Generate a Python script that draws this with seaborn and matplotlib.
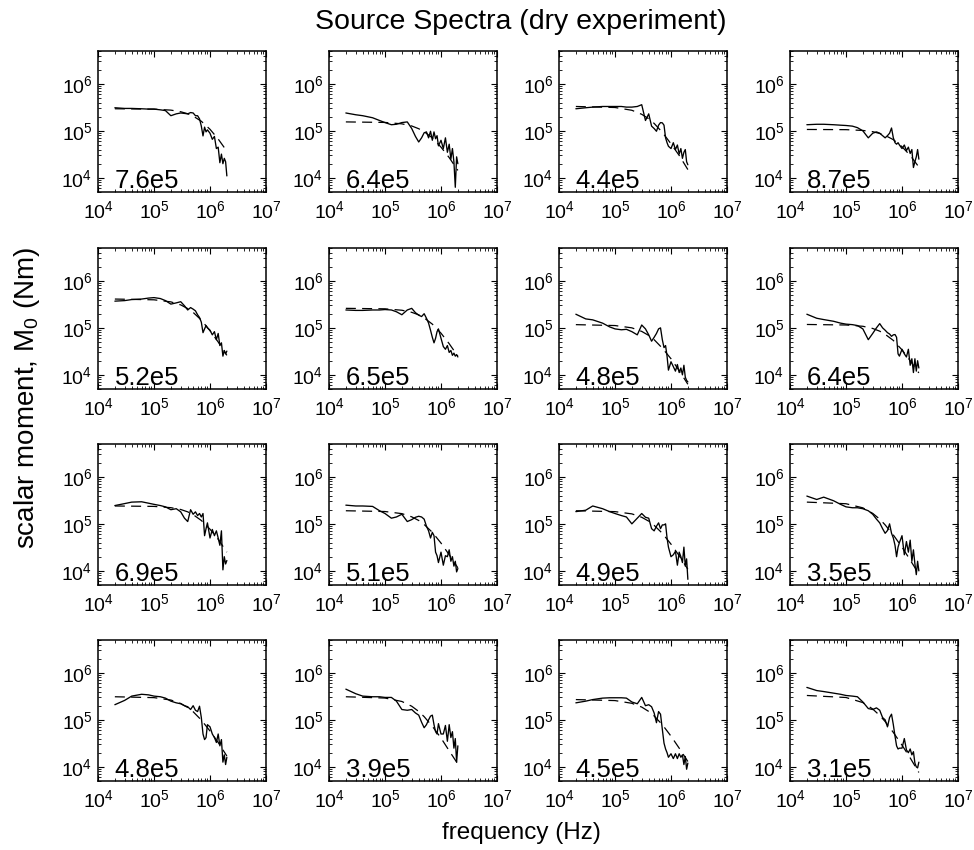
import numpy as np
import pandas as pd
import matplotlib
matplotlib.use("Agg")
import matplotlib.pyplot as plt
import seaborn as sns
from matplotlib.ticker import LogLocator, NullFormatter, LogFormatterSciNotation

# ---------------- data ----------------
freq = [2e4, 3e4, 4e4, 6e4, 8e4, 1e5, 1.3e5, 1.6e5, 2e5, 2.5e5, 3e5, 3.5e5,
        4e5, 4.5e5, 5e5, 5.5e5, 6e5, 6.5e5, 7e5, 7.5e5, 8e5, 8.5e5, 9e5,
        1.0e6, 1.1e6, 1.2e6, 1.3e6, 1.4e6, 1.5e6, 1.6e6, 1.7e6, 1.8e6, 1.9e6, 2.0e6]

fit_freq = [2e4, 1e5, 2e5, 3e5, 4e5, 5e5, 7e5, 1e6, 1.4e6, 2e6]

corner_labels = ["7.6e5", "6.4e5", "4.4e5", "8.7e5",
                 "5.2e5", "6.5e5", "4.8e5", "6.4e5",
                 "6.9e5", "5.1e5", "4.9e5", "3.5e5",
                 "4.8e5", "3.9e5", "4.5e5", "3.1e5"]

m01 = [3.1e5, 3.0e5, 3.0e5, 2.95e5, 2.9e5, 2.9e5, 2.8e5, 2.7e5, 2.1e5, 2.3e5, 2.4e5, 2.35e5,
       2.3e5, 2.45e5, 2.4e5, 2.1e5, 2.1e5, 1.8e5, 1.26e5, 7.8e4, 1.2e5, 9.5e4, 1.05e5,
       8.9e4, 6.6e4, 7.6e4, 4.2e4, 4.5e4, 2.1e4, 3.2e4, 2.0e4, 2.6e4, 2.2e4, 1.1e4]
m02 = [2.4e5, 2.2e5, 2.1e5, 1.9e5, 1.66e5, 1.5e5, 1.35e5, 1.38e5, 1.5e5, 1.55e5, 1.12e5, 7.6e4,
       5.8e4, 7.1e4, 9.1e4, 9.5e4, 7.1e4, 9.8e4, 6.3e4, 9.5e4, 6.8e4, 7.9e4, 4.8e4,
       6.3e4, 4.2e4, 7.1e4, 3.5e4, 5.2e4, 2.5e4, 4.2e4, 2.2e4, 6.3e3, 2.8e4, 2.0e4]
m03 = [2.95e5, 3.1e5, 3.2e5, 3.3e5, 3.3e5, 3.3e5, 3.3e5, 3.2e5, 3.2e5, 3.3e5, 3.6e5, 1.66e5,
       2.3e5, 1.26e5, 1.12e5, 9.8e4, 1.32e5, 1.5e5, 1.48e5, 1.32e5, 7.1e4, 5.6e4, 4.7e4,
       4.2e4, 5.6e4, 4.0e4, 5.0e4, 3.2e4, 4.2e4, 2.6e4, 3.5e4, 4.0e4, 2.2e4, 1.9e4]
m04 = [1.35e5, 1.38e5, 1.38e5, 1.35e5, 1.32e5, 1.3e5, 1.26e5, 1.17e5, 1.0e5, 7.1e4, 8.9e4, 9.5e4,
       8.9e4, 7.9e4, 7.1e4, 7.9e4, 8.9e4, 1.15e5, 7.1e4, 5.6e4, 5.2e4, 5.6e4, 5.0e4,
       4.2e4, 5.0e4, 3.8e4, 4.5e4, 3.3e4, 4.0e4, 1.66e4, 2.2e4, 2.8e4, 4.0e4, 2.5e4]
m05 = [3.7e5, 3.8e5, 4.0e5, 4.1e5, 4.3e5, 4.4e5, 4.2e5, 3.8e5, 3.2e5, 3.4e5, 3.6e5, 2.95e5,
       2.4e5, 2.7e5, 2.5e5, 2.3e5, 1.9e5, 1.66e5, 1.32e5, 7.9e4, 9.5e4, 1.12e5, 1.0e5,
       8.9e4, 7.1e4, 8.3e4, 5.6e4, 7.6e4, 4.2e4, 4.8e4, 2.5e4, 3.3e4, 2.8e4, 3.2e4]
m06 = [2.4e5, 2.35e5, 2.35e5, 2.4e5, 2.4e5, 2.45e5, 2.4e5, 2.2e5, 1.9e5, 2.4e5, 2.6e5, 2.1e5,
       1.86e5, 1.74e5, 2.0e5, 1.6e5, 1.26e5, 8.9e4, 6.3e4, 4.8e4, 6.0e4, 8.3e4, 9.5e4,
       6.0e4, 4.0e4, 3.5e4, 4.2e4, 3.0e4, 3.3e4, 2.6e4, 2.9e4, 2.5e4, 2.7e4, 2.4e4]
m07 = [1.95e5, 1.55e5, 1.48e5, 1.26e5, 1.05e5, 9.5e4, 9.1e4, 9.3e4, 8.3e4, 7.1e4, 1.15e5, 9.5e4,
       7.1e4, 5.2e4, 6.3e4, 7.6e4, 9.5e4, 1.0e5, 5.6e4, 3.8e4, 4.2e4, 2.5e4, 1.26e4,
       1.9e4, 1.5e4, 1.2e4, 1.66e4, 1.12e4, 1.4e4, 1.0e4, 1.6e4, 8.9e3, 7.6e3, 7.1e3]
m08 = [1.95e5, 1.6e5, 1.5e5, 1.38e5, 1.26e5, 1.2e5, 1.17e5, 1.12e5, 9.5e4, 5.6e4, 7.6e4, 1.0e5,
       1.23e5, 1.0e5, 8.9e4, 7.9e4, 7.4e4, 6.6e4, 7.1e4, 7.2e4, 6.3e4, 2.8e4, 2.5e4,
       3.5e4, 2.8e4, 2.4e4, 3.5e4, 1.6e4, 2.2e4, 1.12e4, 2.2e4, 1.2e4, 2.0e4, 1.4e4]
m09 = [2.45e5, 2.7e5, 2.9e5, 2.95e5, 2.75e5, 2.6e5, 2.45e5, 2.3e5, 2.0e5, 2.1e5, 1.8e5, 1.32e5,
       1.12e5, 2.0e5, 1.6e5, 1.8e5, 1.5e5, 1.66e5, 1.4e5, 1.66e5, 5.6e4, 7.9e4, 1.05e5,
       5.0e4, 7.6e4, 5.6e4, 7.1e4, 5.0e4, 3.5e4, 7.1e4, 1.05e4, 2.0e4, 1.4e4, 1.66e4]
m10 = [2.5e5, 2.4e5, 2.4e5, 2.35e5, 1.9e5, 1.66e5, 1.32e5, 1.4e5, 1.6e5, 1.12e5, 1.23e5, 1.38e5,
       1.45e5, 1.4e5, 1.26e5, 8.9e4, 7.1e4, 5.0e4, 6.6e4, 5.6e4, 2.5e4, 2.1e4, 1.5e4,
       2.5e4, 1.32e4, 2.1e4, 2.0e4, 2.8e4, 1.6e4, 2.0e4, 1.26e4, 1.6e4, 9.5e3, 1.12e4]
m11 = [1.82e5, 1.95e5, 2.4e5, 2.1e5, 1.82e5, 1.66e5, 1.5e5, 1.4e5, 1.0e5, 1.32e5, 1.66e5, 1.38e5,
       1.32e5, 7.9e4, 7.1e4, 8.9e4, 1.05e5, 7.9e4, 9.5e4, 9.5e4, 1.0e5, 5.0e4, 3.2e4,
       2.0e4, 2.2e4, 2.6e4, 1.32e4, 2.5e4, 2.0e4, 1.5e4, 3.2e4, 1.26e4, 1.8e4, 6.6e3]
m12 = [3.9e5, 3.3e5, 3.7e5, 3.1e5, 2.6e5, 2.3e5, 2.2e5, 2.2e5, 2.1e5, 1.9e5, 1.6e5, 1.26e5,
       1.05e5, 7.9e4, 6.3e4, 7.2e4, 1.0e5, 6.3e4, 5.0e4, 3.5e4, 2.0e4, 3.2e4, 4.0e4,
       5.6e4, 2.2e4, 4.2e4, 2.5e4, 4.5e4, 1.6e4, 2.8e4, 1.4e4, 8.3e3, 1.6e4, 1.0e4]
m13 = [2.1e5, 2.6e5, 3.2e5, 3.5e5, 3.4e5, 3.2e5, 3.1e5, 2.9e5, 2.5e5, 2.3e5, 2.2e5, 2.0e5,
       1.9e5, 1.66e5, 2.0e5, 1.6e5, 1.5e5, 1.95e5, 1.12e5, 5.0e4, 3.8e4, 4.2e4, 7.9e4,
       7.1e4, 5.0e4, 4.2e4, 3.3e4, 5.0e4, 2.8e4, 3.8e4, 1.26e4, 1.8e4, 1.12e4, 1.6e4]
m14 = [4.5e5, 3.6e5, 3.2e5, 3.1e5, 3.1e5, 3.0e5, 3.0e5, 2.5e5, 1.66e5, 1.6e5, 1.66e5, 1.4e5,
       1.26e5, 8.9e4, 6.8e4, 7.9e4, 1.0e5, 1.2e5, 1.26e5, 7.9e4, 5.6e4, 5.0e4, 8.3e4,
       5.0e4, 5.0e4, 7.6e4, 3.5e4, 7.9e4, 4.2e4, 5.6e4, 2.5e4, 4.0e4, 1.26e4, 2.8e4]
m15 = [2.3e5, 2.5e5, 2.7e5, 2.9e5, 2.95e5, 2.95e5, 2.95e5, 2.9e5, 2.4e5, 2.2e5, 3.0e5, 2.0e5,
       2.1e5, 1.9e5, 1.4e5, 8.7e4, 1.5e5, 1.32e5, 6.3e4, 3.2e4, 2.4e4, 2.0e4, 1.6e4,
       1.9e4, 1.5e4, 1.9e4, 1.5e4, 1.9e4, 1.6e4, 1.8e4, 1.12e4, 1.66e4, 8.9e3, 1.2e4]
m16 = [4.9e5, 4.2e5, 4.0e5, 3.7e5, 3.5e5, 3.3e5, 3.2e5, 3.1e5, 2.4e5, 1.74e5, 1.66e5, 1.8e5,
       1.6e5, 1.12e5, 1.0e5, 7.1e4, 1.12e5, 1.32e5, 7.9e4, 4.5e4, 2.8e4, 2.4e4, 2.5e4,
       2.5e4, 4.0e4, 2.3e4, 2.0e4, 2.4e4, 1.8e4, 2.1e4, 1.2e4, 1.0e4, 9.5e3, 1.26e4]

fit01 = [2.95e5, 2.9e5, 2.76e5, 2.55e5, 2.31e5, 2.06e5, 1.6e5, 1.08e5, 6.7e4, 3.7e4]
fit02 = [1.55e5, 1.51e5, 1.41e5, 1.27e5, 1.11e5, 9.6e4, 7.1e4, 4.5e4, 2.7e4, 1.44e4]
fit03 = [3.3e5, 3.14e5, 2.74e5, 2.25e5, 1.81e5, 1.44e5, 9.3e4, 5.3e4, 3.0e4, 1.5e4]
fit04 = [1.07e5, 1.06e5, 1.02e5, 9.6e4, 8.8e4, 8.0e4, 6.5e4, 4.6e4, 3.0e4, 1.7e4]
fit05 = [4.1e5, 3.95e5, 3.57e5, 3.08e5, 2.57e5, 2.13e5, 1.46e5, 8.7e4, 5.0e4, 2.6e4]
fit06 = [2.6e5, 2.54e5, 2.37e5, 2.14e5, 1.89e5, 1.63e5, 1.2e5, 7.7e4, 4.6e4, 2.5e4]
fit07 = [1.17e5, 1.12e5, 1.0e5, 8.4e4, 6.9e4, 5.6e4, 3.7e4, 2.2e4, 1.23e4, 6.3e3]
fit08 = [1.18e5, 1.15e5, 1.08e5, 9.7e4, 8.5e4, 7.3e4, 5.4e4, 3.4e4, 2.0e4, 1.1e4]
fit09 = [2.4e5, 2.35e5, 2.21e5, 2.02e5, 1.8e5, 1.57e5, 1.18e5, 7.7e4, 4.7e4, 2.5e4]
fit10 = [1.9e5, 1.83e5, 1.65e5, 1.41e5, 1.18e5, 9.7e4, 6.6e4, 3.9e4, 2.2e4, 1.16e4]
fit11 = [1.9e5, 1.82e5, 1.63e5, 1.38e5, 1.14e5, 9.3e4, 6.3e4, 3.7e4, 2.1e4, 1.08e4]
fit12 = [2.9e5, 2.68e5, 2.19e5, 1.67e5, 1.26e5, 9.5e4, 5.8e4, 3.2e4, 1.7e4, 8.6e3]
fit13 = [3.1e5, 2.97e5, 2.64e5, 2.23e5, 1.83e5, 1.49e5, 9.9e4, 5.8e4, 3.3e4, 1.7e4]
fit14 = [3.1e5, 2.91e5, 2.46e5, 1.95e5, 1.51e5, 1.17e5, 7.3e4, 4.1e4, 2.2e4, 1.15e4]
fit15 = [2.7e5, 2.57e5, 2.25e5, 1.87e5, 1.51e5, 1.21e5, 7.9e4, 4.5e4, 2.5e4, 1.3e4]
fit16 = [3.3e5, 2.99e5, 2.33e5, 1.70e5, 1.24e5, 9.2e4, 5.4e4, 2.9e4, 1.55e4, 7.6e3]

spectra = [m01, m02, m03, m04, m05, m06, m07, m08,
           m09, m10, m11, m12, m13, m14, m15, m16]
fits = [fit01, fit02, fit03, fit04, fit05, fit06, fit07, fit08,
        fit09, fit10, fit11, fit12, fit13, fit14, fit15, fit16]

rows = []
for i, (sp, ft) in enumerate(zip(spectra, fits)):
    for f, m in zip(freq, sp):
        rows.append((i, "data", f, m))
    for f, m in zip(fit_freq, ft):
        rows.append((i, "fit", f, m))
df = pd.DataFrame(rows, columns=["panel", "kind", "freq", "moment"])

# ---------------- style ----------------
sns.set_style("ticks")
plt.rcParams.update({
    "font.family": ["Liberation Sans", "DejaVu Sans"],
    "mathtext.fontset": "custom",
    "mathtext.rm": "Liberation Sans",
    "mathtext.it": "Liberation Sans:italic",
    "mathtext.bf": "Liberation Sans:bold",
    "text.color": "black",
    "axes.labelcolor": "black",
    "xtick.direction": "in",
    "ytick.direction": "in",
    "xtick.top": True,
    "ytick.right": True,
    "xtick.color": "black",
    "ytick.color": "black",
    "xtick.labelcolor": "black",
    "ytick.labelcolor": "black",
    "axes.edgecolor": "black",
    "axes.linewidth": 1.1,
})

fig = plt.figure(figsize=(9.74, 8.5), dpi=100)
W, H = 974.0, 850.0
col_left = [98, 329, 559, 790]
row_top = [51, 248, 444, 640]
aw, ah = 168, 141

for i in range(16):
    r, c = divmod(i, 4)
    ax = fig.add_axes([col_left[c] / W, 1 - (row_top[r] + ah) / H, aw / W, ah / H])
    ax.set_xscale("log")
    ax.set_yscale("log")
    sub = df[df.panel == i]
    sns.lineplot(data=sub[sub.kind == "fit"], x="freq", y="moment", ax=ax,
                 color="black", lw=0.9, linestyle=(0, (8, 5)),
                 estimator=None, sort=False)
    sns.lineplot(data=sub[sub.kind == "data"], x="freq", y="moment", ax=ax,
                 color="black", lw=0.95, estimator=None, sort=False)
    ax.set_xlim(1e4, 1e7)
    ax.set_ylim(5e3, 5e6)
    ax.set_xticks([1e4, 1e5, 1e6, 1e7])
    ax.set_yticks([1e4, 1e5, 1e6])
    ax.xaxis.set_major_formatter(LogFormatterSciNotation())
    ax.yaxis.set_major_formatter(LogFormatterSciNotation())
    ax.xaxis.set_minor_locator(LogLocator(base=10, subs=np.arange(2, 10), numticks=20))
    ax.yaxis.set_minor_locator(LogLocator(base=10, subs=np.arange(2, 10), numticks=20))
    ax.xaxis.set_minor_formatter(NullFormatter())
    ax.yaxis.set_minor_formatter(NullFormatter())
    ax.tick_params(which="major", length=4, width=0.8, labelsize=14, pad=4,
                   top=True, right=True, direction="in", colors="black")
    ax.tick_params(which="minor", length=2, width=0.6, top=True, right=True,
                   direction="in", colors="black")
    ax.tick_params(axis="x", which="major", pad=6)
    ax.set_xlabel("")
    ax.set_ylabel("")
    for s in ax.spines.values():
        s.set_visible(True)
        s.set_linewidth(1.1)
        s.set_color("black")
    ax.text(0.10, 0.03, corner_labels[i], transform=ax.transAxes,
            fontsize=18.5, ha="left", va="baseline", color="black")

fig.text(0.535, 1 - 22 / H, "Source Spectra (dry experiment)", ha="center",
         va="center", fontsize=20.5, color="black")
fig.text(0.535, 1 - 833 / H, "frequency (Hz)", ha="center", va="center",
         fontsize=17.5, color="black")
fig.text(27 / W, 1 - 398 / H, "scalar moment, M$_0$ (Nm)", ha="center",
         va="center", rotation=90, fontsize=20, color="black")

fig.savefig("out.png", dpi=100)
